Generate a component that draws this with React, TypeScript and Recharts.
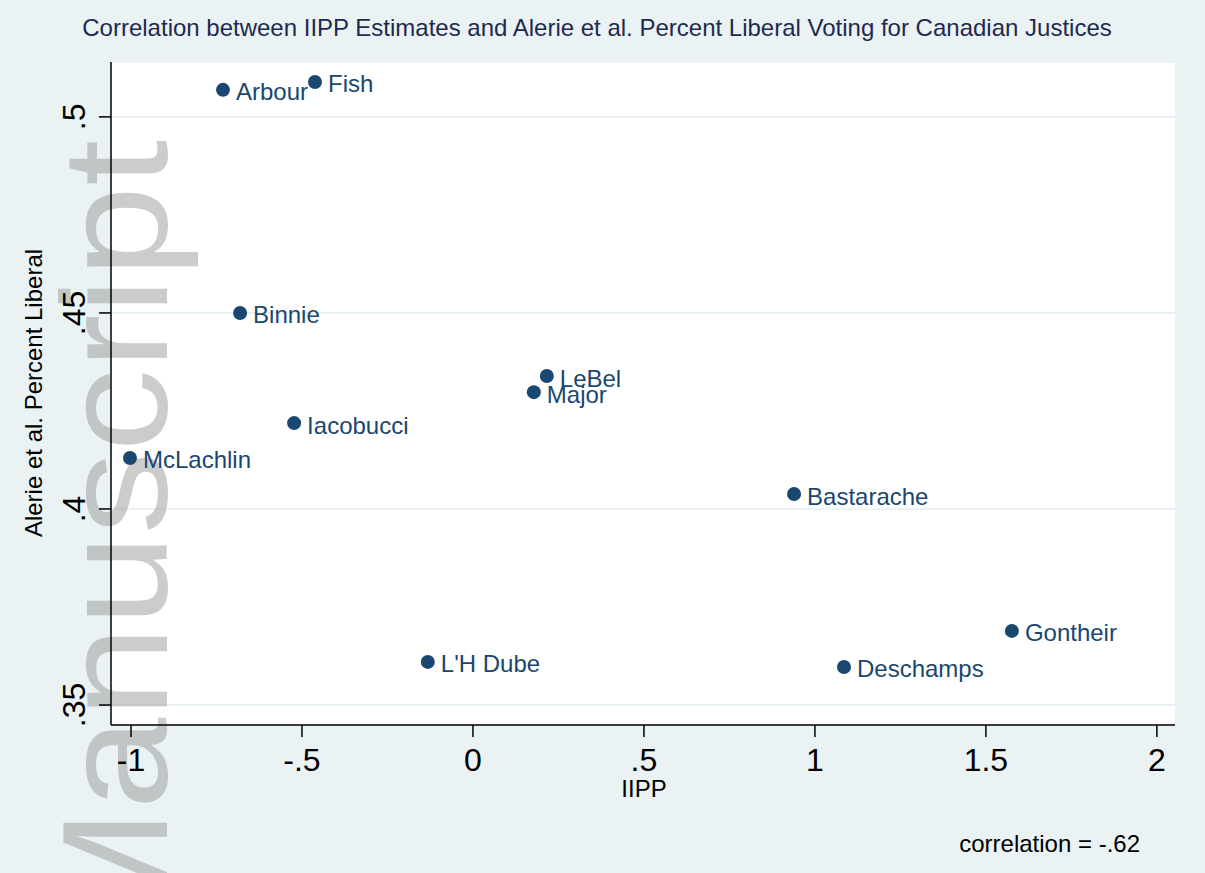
import { ScatterChart, Scatter, XAxis, YAxis, CartesianGrid, Customized } from "recharts";

const justices = ["Arbour", "Fish", "Binnie", "LeBel", "Major", "Iacobucci", "McLachlin", "Bastarache", "Gontheir", "L'H Dube", "Deschamps"];
const iippScores = [-0.731, -0.462, -0.681, 0.216, 0.178, -0.523, -1.003, 0.939, 1.576, -0.132, 1.085];
const pctLiberal = [0.5069, 0.5089, 0.45, 0.4339, 0.4298, 0.4219, 0.413, 0.4038, 0.3689, 0.361, 0.3597];
const xTicks = [-1, -0.5, 0, 0.5, 1, 1.5, 2];
const yTicks = [0.35, 0.4, 0.45, 0.5];

const points = justices.map((name, i) => ({ name, x: iippScores[i], y: pctLiberal[i] }));

const NAVY = "#1A476F";
const BG = "#EAF2F3";
const FONT = "'Liberation Sans', Arial, Helvetica, sans-serif";

// stata style: .5, -.5, 0
const fmt = (v: number) => String(v).replace(/^(-?)0\./, "$1.");

const XTick = ({ x, y, payload }: any) => (
  <text x={x} y={y + 32} textAnchor="middle" fontSize={32} fontFamily={FONT} fill="#000">
    {fmt(payload.value)}
  </text>
);

const YTick = ({ x, y, payload }: any) => (
  <text x={x - 12} y={y} transform={`rotate(-90, ${x - 12}, ${y})`} textAnchor="middle" fontSize={32} fontFamily={FONT} fill="#000">
    {fmt(payload.value)}
  </text>
);

const Dot = (props: any) => {
  const { cx, cy, payload } = props;
  return (
    <g>
      <circle cx={cx} cy={cy} r={7} fill={NAVY} />
      <text x={cx + 13} y={cy + 2} dominantBaseline="central" fontSize={24} fontFamily={FONT} fill={NAVY}>
        {payload.name}
      </text>
    </g>
  );
};

const Watermark = () => (
  <text transform="translate(167, 140) rotate(-90) scale(1.1, 1)" x={0} y={0} textAnchor="end" fontSize={150} fontFamily={FONT} fill="#8f8f8f" opacity={0.45}>
    Manuscript
  </text>
);

const Annotations = () => (
  <g fontFamily={FONT}>
    <text x={597} y={36} textAnchor="middle" fontSize={24} fill="#1E2A4F">
      Correlation between IIPP Estimates and Alerie et al. Percent Liberal Voting for Canadian Justices
    </text>
    <text x={42} y={393} transform="rotate(-90, 42, 393)" textAnchor="middle" fontSize={24} fill="#000">
      Alerie et al. Percent Liberal
    </text>
    <text x={644} y={797} textAnchor="middle" fontSize={24} fill="#000">
      IIPP
    </text>
    <text x={1140} y={852} textAnchor="end" fontSize={24} fill="#000">
      correlation = -.62
    </text>
  </g>
);

export default function App() {
  return (
    <div style={{ position: "absolute", left: 0, top: 0, width: 1205, height: 873, background: BG }}>
      <ScatterChart width={1205} height={873} margin={{ top: 62, right: 30, left: 0, bottom: 0 }}>
        <CartesianGrid vertical={false} stroke={BG} strokeWidth={2} fill="#fff" />
        <Customized component={Watermark} />
        <XAxis
          type="number"
          dataKey="x"
          domain={[-1.0585, 2.053]}
          ticks={xTicks}
          allowDataOverflow
          height={148}
          tick={<XTick />}
          tickSize={12}
          tickLine={{ stroke: "#000", strokeWidth: 1.5 }}
          axisLine={{ stroke: "#000", strokeWidth: 1.5 }}
        />
        <YAxis
          type="number"
          dataKey="y"
          domain={[0.3449, 0.514]}
          ticks={yTicks}
          allowDataOverflow
          width={111}
          tick={<YTick />}
          tickSize={12}
          tickLine={{ stroke: "#000", strokeWidth: 1.5 }}
          axisLine={{ stroke: "#000", strokeWidth: 1.5 }}
        />
        <Scatter data={points} shape={<Dot />} isAnimationActive={false} />
        <Customized component={Annotations} />
      </ScatterChart>
    </div>
  );
}
